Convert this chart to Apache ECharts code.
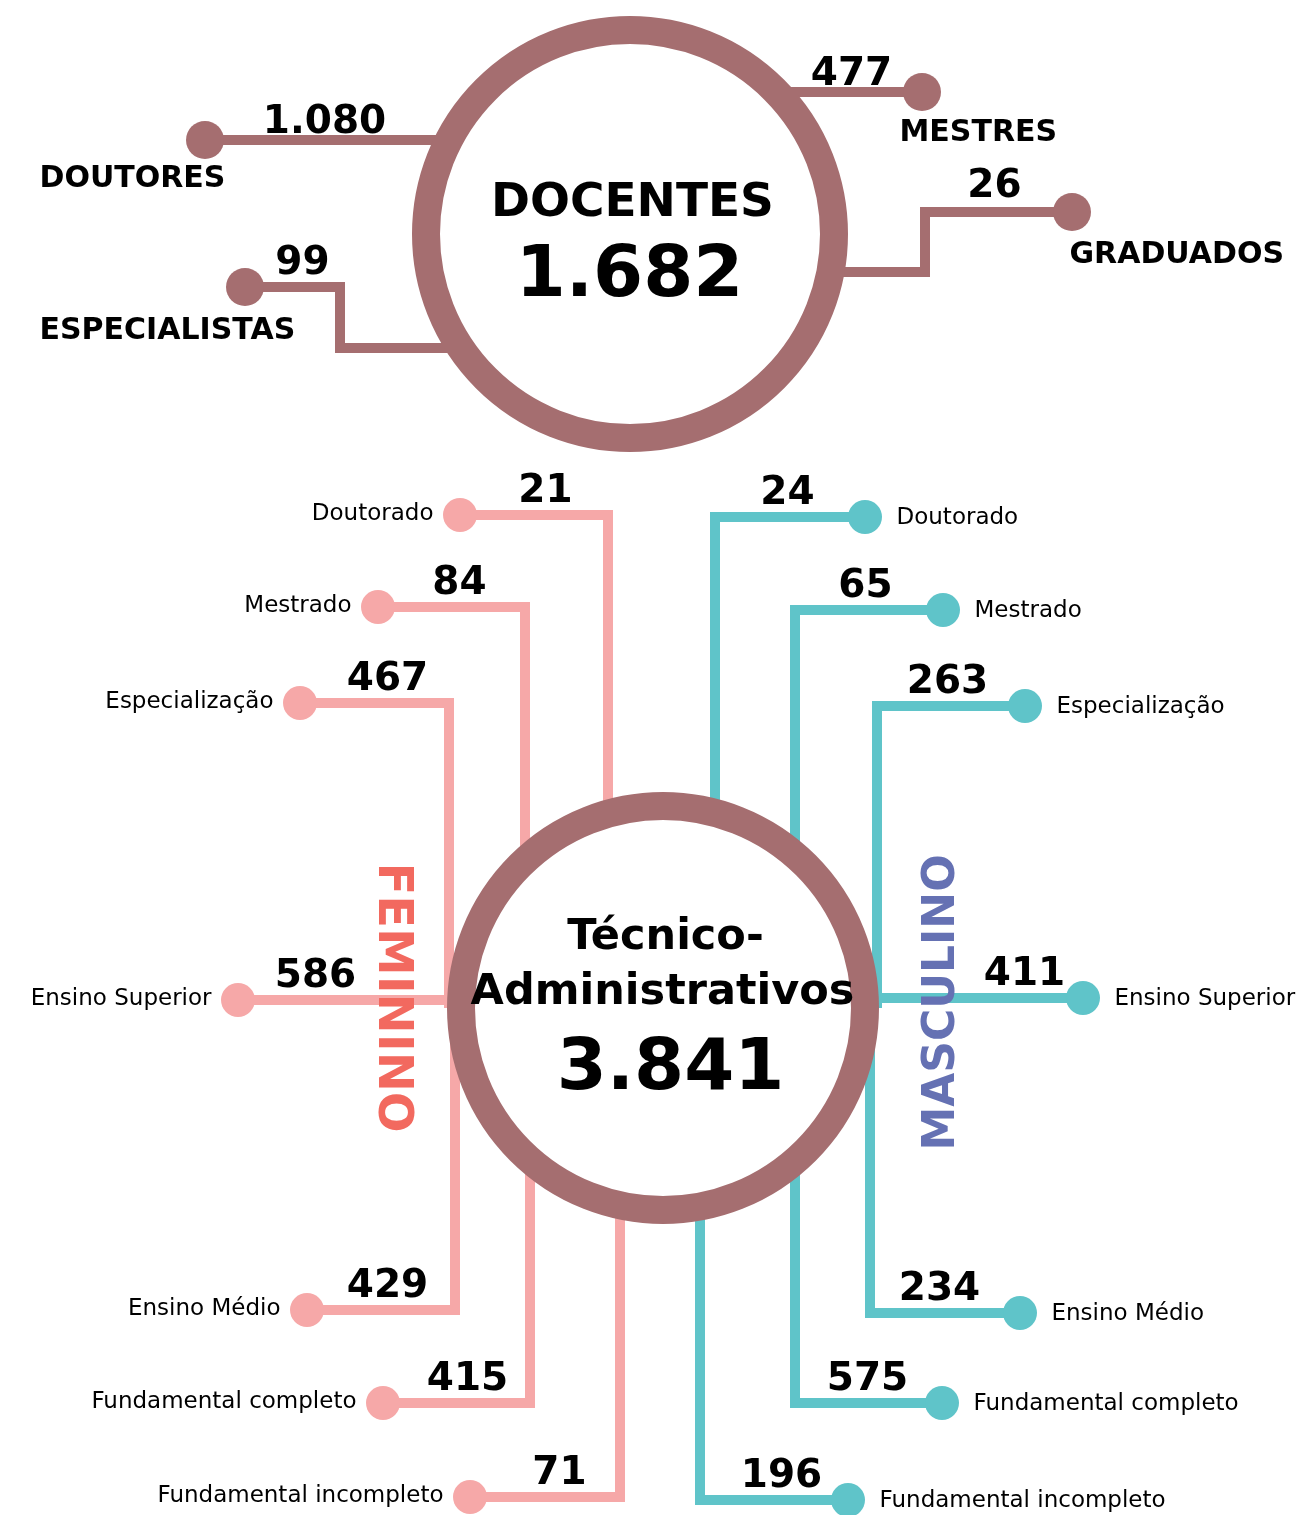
<!DOCTYPE html>
<html>
<head>
<meta charset="utf-8">
<script src="https://cdn.jsdelivr.net/npm/echarts@6/dist/echarts.min.js"></script>
<style>
  html, body { margin: 0; background: #fff; }
  #chart { width: 1315px; height: 1515px; }
</style>
</head>
<body>
<div id="chart"></div>
<script>
// data
const docCategories = ["DOUTORES", "MESTRES", "ESPECIALISTAS", "GRADUADOS"];
const docValues = [1080, 477, 99, 26];
const docTitle = "DOCENTES";
const docTotal = 1682;

const taCategories = ["Doutorado", "Mestrado", "Especialização", "Ensino Superior",
  "Ensino Médio", "Fundamental completo", "Fundamental incompleto"];
const femValues = [21, 84, 467, 586, 429, 415, 71];
const mascValues = [24, 65, 263, 411, 234, 575, 196];
const taTitle = ["Técnico-", "Administrativos"];
const taTotal = 3841;
const sideNames = ["FEMININO", "MASCULINO"];

// layout (pixel space of the picture)
const docCenter = [630, 234];
const taCenter = [663, 1008];
// branch paths: dot first, then toward the circle
const docPaths = [
  [[205, 140], [500, 140]],
  [[922, 92], [760, 92]],
  [[245, 287], [340, 287], [340, 348], [500, 348]],
  [[1072, 212], [925, 212], [925, 272], [780, 272]]
];
const docValuePos = [[325, 123], [852, 75], [303, 264], [995, 187]];
const docLabelPos = [[40, 180], [900, 134], [40, 332], [1070, 256]];

const femRows = [515, 607, 703, 1000, 1310, 1403, 1497];
const femDotX = [460, 378, 300, 238, 307, 383, 470];
const femElbowX = [608, 525, 449, null, 455, 530, 620];
const femValueX = [546, 460, 388, 316, 388, 468, 560];

const mascRows = [517, 610, 706, 998, 1313, 1403, 1500];
const mascDotX = [865, 943, 1025, 1083, 1020, 942, 848];
const mascElbowX = [715, 795, 877, null, 870, 795, 700];
const mascValueX = [788, 866, 948, 1025, 940, 868, 782];

const ringColor = "#a56e70";
const femColor = "#f6a8a8";
const mascColor = "#5fc4c9";

function fmt(n) {
  return String(n).replace(/\B(?=(\d{3})+(?!\d))/g, ".");
}

const series = [];

function addLine(path, color) {
  series.push({
    type: "line", data: path, symbol: "none", silent: true, z: 1,
    lineStyle: { color: color, width: 10, cap: "butt", join: "miter" }
  });
}

const textItems = [];
function addText(x, y, text, style) {
  textItems.push({
    value: [x, y],
    label: Object.assign({ show: true, formatter: text, position: [0, 0],
      align: "center", verticalAlign: "middle", color: "#000", opacity: 1 }, style)
  });
}

const bigNum = { fontFamily: "DejaVu Sans", fontWeight: "bold", fontSize: 39 };
const smallCat = { fontFamily: "DejaVu Sans", fontSize: 23 };
const boldCat = { fontFamily: "DejaVu Sans", fontWeight: "bold", fontSize: 30, align: "left" };

// docentes branches
const docDots = [];
docPaths.forEach(function (p, i) {
  addLine(p, ringColor);
  docDots.push(p[0]);
  addText(docValuePos[i][0], docValuePos[i][1], fmt(docValues[i]), bigNum);
  addText(docLabelPos[i][0], docLabelPos[i][1], docCategories[i], boldCat);
});

// tecnico-administrativos branches
const femDots = [], mascDots = [];
taCategories.forEach(function (cat, i) {
  let y = femRows[i];
  let path = [[femDotX[i], y]];
  if (femElbowX[i] === null) path.push([taCenter[0] - 100, y]);
  else path.push([femElbowX[i], y], [femElbowX[i], taCenter[1]]);
  addLine(path, femColor);
  femDots.push(path[0]);
  addText(femValueX[i], y - 23, fmt(femValues[i]), bigNum);
  addText(femDotX[i] - 26, y, cat, Object.assign({ align: "right" }, smallCat));

  y = mascRows[i];
  path = [[mascDotX[i], y]];
  if (mascElbowX[i] === null) path.push([taCenter[0] + 100, y]);
  else path.push([mascElbowX[i], y], [mascElbowX[i], taCenter[1]]);
  addLine(path, mascColor);
  mascDots.push(path[0]);
  addText(mascValueX[i], y - 23, fmt(mascValues[i]), bigNum);
  addText(mascDotX[i] + 32, y + 2, cat, Object.assign({ align: "left" }, smallCat));
});

// centre texts
const bold = { fontFamily: "DejaVu Sans", fontWeight: "bold" };
addText(docCenter[0] + 3, 204, docTitle, Object.assign({ fontSize: 47 }, bold));
addText(docCenter[0], 278, fmt(docTotal), Object.assign({ fontSize: 72 }, bold));
addText(taCenter[0] + 3, 938, taTitle[0], Object.assign({ fontSize: 43 }, bold));
addText(taCenter[0], 993, taTitle[1], Object.assign({ fontSize: 43 }, bold));
addText(taCenter[0] + 8, 1071, fmt(taTotal), Object.assign({ fontSize: 72 }, bold));
addText(392, 998, sideNames[0], Object.assign({ fontSize: 48, color: "#f2695f", rotate: -90 }, bold));
addText(943, 1003, sideNames[1], Object.assign({ fontSize: 44, color: "#6571b3", rotate: 90 }, bold));

series.push(
  { type: "scatter", data: docDots, symbolSize: 38, itemStyle: { color: ringColor, opacity: 1 }, z: 3, silent: true },
  { type: "scatter", data: femDots, symbolSize: 34, itemStyle: { color: femColor, opacity: 1 }, z: 3, silent: true },
  { type: "scatter", data: mascDots, symbolSize: 34, itemStyle: { color: mascColor, opacity: 1 }, z: 3, silent: true },
  { type: "scatter", data: [docCenter], symbolSize: 408, z: 4, silent: true,
    itemStyle: { color: "#fff", borderColor: ringColor, borderWidth: 28, opacity: 1 } },
  { type: "scatter", data: [taCenter], symbolSize: 404, z: 4, silent: true,
    itemStyle: { color: "#fff", borderColor: ringColor, borderWidth: 28, opacity: 1 } },
  { type: "scatter", data: textItems, symbolSize: 1, z: 6, silent: true,
    label: { show: true, color: "#000" },
    itemStyle: { color: "rgba(0,0,0,0)", opacity: 1 } }
);

const chart = echarts.init(document.getElementById("chart"));
chart.setOption({
  animation: false,
  backgroundColor: "#fff",
  grid: { left: 0, right: 0, top: 0, bottom: 0 },
  xAxis: { type: "value", min: 0, max: 1315, show: false },
  yAxis: { type: "value", min: 0, max: 1515, inverse: true, show: false },
  series: series
});
window.addEventListener("resize", function () {
  chart.resize();
});
</script>
</body>
</html>
